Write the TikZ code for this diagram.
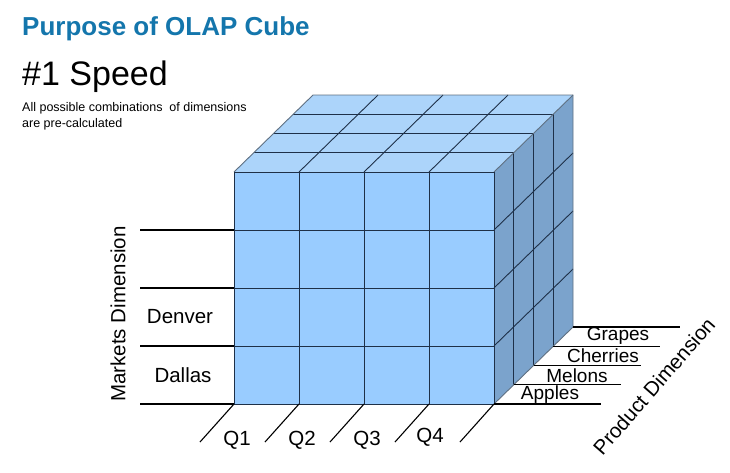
\documentclass[tikz,border=0pt]{standalone}
\usepackage{fontspec}
\setmainfont{Liberation Sans}
\usetikzlibrary{positioning}

\definecolor{titleblue}{RGB}{20,118,172}
\definecolor{frontblue}{RGB}{153,204,255}
\definecolor{topblue}{RGB}{172,212,250}
\definecolor{sideblue}{RGB}{123,163,204}
\definecolor{gridnavy}{RGB}{30,48,72}
\definecolor{edgegrey}{RGB}{95,112,130}

\begin{document}
\begin{tikzpicture}[x=1pt,y=-1pt,
                    grid line/.style={draw=gridnavy,line width=0.9pt},
                    edge line/.style={draw=edgegrey,line width=0.9pt},
                    axis line/.style={draw=black,line width=1.4pt},
                    dim label/.style={font=\fontsize{20.5}{24}\selectfont},
                    fruit label/.style={font=\fontsize{19}{22}\selectfont}]

  \useasboundingbox (0,0) rectangle (730,472);

  % heading
  \node[anchor=base west,text=titleblue,font=\fontsize{26}{30}\selectfont\bfseries,inner sep=0pt]
    (title) at (22,35) {Purpose of OLAP Cube};
  \node[anchor=base west,font=\fontsize{34}{38}\selectfont,inner sep=0pt]
    (speed) at (22,85) {\#1 Speed};
  \node[anchor=base west,font=\fontsize{12.5}{15.5}\selectfont,inner sep=0pt,align=left]
    (note) at (22,127) {All possible combinations \ of dimensions\\are pre-calculated};

  % cube corners
  \coordinate (FTL) at (234,172);
  \coordinate (FTR) at (494,172);
  \coordinate (FBL) at (234,404);
  \coordinate (FBR) at (494,404);
  \coordinate (BTL) at (313,95);
  \coordinate (BTR) at (573,95);
  \coordinate (BBR) at (573,327);

  % faces
  \fill[topblue] (FTL) -- (FTR) -- (BTR) -- (BTL) -- cycle;
  \fill[sideblue] (FTR) -- (BTR) -- (BBR) -- (FBR) -- cycle;
  \fill[frontblue] (FTL) rectangle (FBR);

  % cells
  \foreach \k in {1,2,3} {
    \draw[grid line] ({234+19.75*\k},{172-19.25*\k}) -- ++(260,0);
    \draw[grid line] ({494+19.75*\k},{172-19.25*\k}) -- ++(0,232);
    \draw[grid line] ({234+65*\k},172) -- ++(79,-77);
    \draw[grid line] (494,{172+58*\k}) -- ++(79,-77);
    \draw[grid line] ({234+65*\k},172) -- ++(0,232);
    \draw[grid line] (234,{172+58*\k}) -- ++(260,0);
  }
  \draw[edge line] (FTL) -- (BTL) -- (BTR) -- (BBR) -- (FBR);
  \draw[edge line] (FTR) -- (BTR);
  \draw[grid line] (FTL) rectangle (FBR);

  % markets dimension
  \foreach \j in {1,...,4} {
    \coordinate (m\j) at (140,{172+58*\j});
    \draw[axis line] (m\j) -- (234,{172+58*\j});
  }
  \node[dim label] (denver) at (180,317) {Denver};
  \node[dim label] (dallas) at (183,375) {Dallas};
  \node[dim label,rotate=90] (markets) at (118,314) {Markets Dimension};

  % time dimension
  \foreach \i in {0,...,4} {
    \coordinate (t\i) at ({234+65*\i},404);
    \draw[axis line,line width=1.1pt] (t\i) -- ++(-34,38);
  }
  \node[dim label] (q1) at (237,440) {Q1};
  \node[dim label] (q2) at (302,440) {Q2};
  \node[dim label] (q3) at (367,440) {Q3};
  \node[dim label] (q4) at (430,437) {Q4};

  % product dimension
  \foreach \k in {0,...,4} {
    \coordinate (p\k) at ({494+19.75*\k},{404-19.25*\k});
    \draw[axis line] (p\k) -- ++(107,0);
  }
  \node[fruit label] (apples) at (550,395) {Apples};
  \node[fruit label] (melons) at (577,376) {Melons};
  \node[fruit label] (cherries) at (603,356) {Cherries};
  \node[fruit label] (grapes) at (618,336) {Grapes};
  \node[dim label,rotate=49,inner sep=1pt] (product) at (654,386) {Product Dimension};
\end{tikzpicture}
\end{document}
